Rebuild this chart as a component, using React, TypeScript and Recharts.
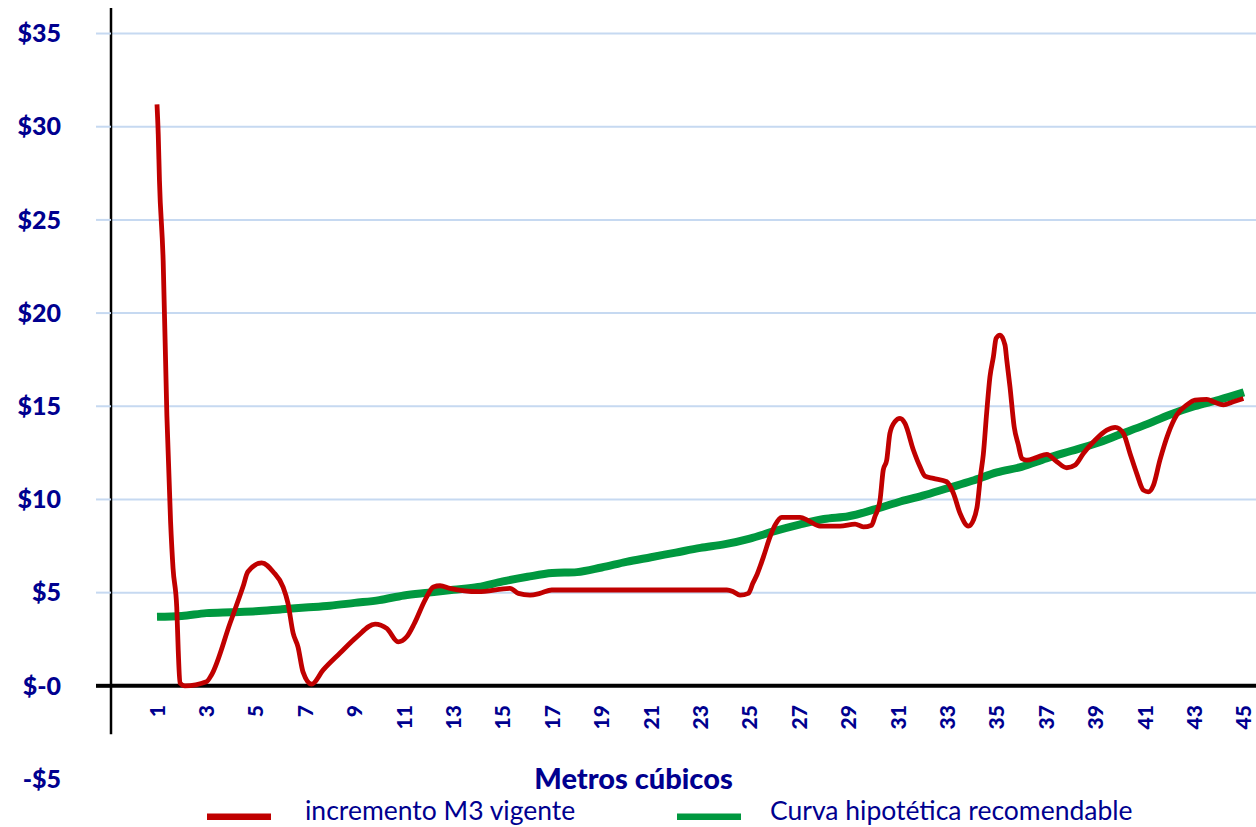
import React from 'react';
import {
  ComposedChart,
  Line,
  XAxis,
  YAxis,
  CartesianGrid,
  ReferenceLine,
  Legend,
  Label,
} from 'recharts';

// ---------- data ----------
const xTicks = [1, 3, 5, 7, 9, 11, 13, 15, 17, 19, 21, 23, 25, 27, 29, 31, 33, 35, 37, 39, 41, 43, 45];
const yTicks = [-5, 0, 5, 10, 15, 20, 25, 30, 35];
const yTickLabels = ['-$5', '$-0', '$5', '$10', '$15', '$20', '$25', '$30', '$35'];
const gridValues = [5, 10, 15, 20, 25, 30, 35];
const seriesNames = ['incremento M3 vigente', 'Curva hipotética recomendable'];
const axisTitle = 'Metros cúbicos';

// red series: traced positions (m3) and values ($)
const incrementoM3 = [
  1.0, 1.05, 1.1, 1.25, 1.4, 1.55, 1.65, 1.8, 1.86, 1.93, 2.13, 3.0, 3.2, 3.96, 4.48, 4.68, 5.24, 5.7,
  6.1, 6.3, 6.51, 6.71, 6.91, 7.26, 7.72, 8.41, 9.09, 9.83, 10.3, 10.76, 11.11, 11.42, 11.85, 12.19,
  12.46, 12.86, 14.0, 15.29, 15.63, 16.1, 16.5, 16.98, 24.07, 24.33, 24.6, 24.94, 25.12, 25.3, 25.55,
  25.82, 26.02, 26.29, 27.03, 27.37, 27.84, 28.65, 29.26, 29.59, 29.93, 30.06, 30.27, 30.4, 30.54,
  30.67, 30.87, 31.08, 31.28, 31.62, 31.89, 32.09, 32.43, 32.97, 33.24, 33.51, 33.85, 34.05, 34.21,
  34.34, 34.45, 34.59, 34.72, 34.86, 34.97, 35.13, 35.33, 35.4, 35.53, 35.7, 35.87, 36.01, 36.21,
  36.62, 37.02, 37.43, 37.83, 38.17, 38.5, 38.98, 39.45, 39.79, 40.12, 40.39, 40.66, 40.93, 41.13,
  41.34, 41.6, 41.94, 42.28, 42.69, 43.02, 43.5, 43.77, 44.17, 44.57, 44.98,
];
const incrementoValor = [
  31.2, 29.6, 27.1, 22.8, 14.5, 8.8, 6.3, 4.2, 1.9, 0.15, 0.0, 0.22, 0.57, 3.37, 5.31, 6.12, 6.6, 6.12,
  5.31, 4.44, 2.83, 2.08, 0.75, 0.09, 0.84, 1.76, 2.63, 3.31, 3.08, 2.36, 2.63, 3.35, 4.6, 5.3,
  5.37, 5.23, 5.05, 5.23, 4.96, 4.87, 4.96, 5.14, 5.14, 5.05, 4.87, 4.96, 5.5, 6.0, 6.92,
  8.0, 8.62, 9.04, 9.04, 8.86, 8.57, 8.57, 8.68, 8.53, 8.62, 9.07, 9.97, 11.58, 12.11,
  13.55, 14.17, 14.35, 14.08, 12.65, 11.75, 11.25, 11.13, 10.95, 10.33, 9.25, 8.57, 8.89, 9.7,
  11.3, 12.4, 14.7, 16.58, 17.66, 18.65, 18.82, 18.28, 17.48, 16.05, 13.9, 12.92, 12.2, 12.11,
  12.26, 12.42, 12.02, 11.7, 11.85, 12.47, 13.19, 13.72, 13.87, 13.55, 12.47, 11.4, 10.5, 10.41,
  10.77, 12.11, 13.55, 14.53, 15.07, 15.33, 15.37, 15.24, 15.07, 15.24, 15.42,
];

// green series: one value per cubic metre
const curvaM3 = [
  1, 2, 3, 4, 5, 6, 7, 8, 9, 10, 11, 12, 13, 14, 15, 16, 17, 18, 19, 20, 21, 22, 23, 24, 25, 26, 27, 28, 29,
  30, 31, 32, 33, 34, 35, 36, 37, 38, 39, 40, 41, 42, 43, 44, 45,
];
const curvaValor = [
  3.7, 3.75, 3.9, 3.95, 4.0, 4.1, 4.2, 4.3, 4.45, 4.6, 4.85, 5.0, 5.15, 5.3, 5.6, 5.85, 6.05, 6.1, 6.35,
  6.65, 6.9, 7.15, 7.4, 7.6, 7.9, 8.3, 8.65, 8.95, 9.1, 9.45, 9.85, 10.2, 10.6, 11.0, 11.45, 11.75, 12.2,
  12.6, 13.0, 13.5, 14.0, 14.55, 15.0, 15.35, 15.75,
];

const redData = incrementoM3.map((m, i) => ({ m3: m, valor: incrementoValor[i] }));
const greenData = curvaM3.map((m, i) => ({ m3: m, valor: curvaValor[i] }));

// ---------- style ----------
const FONT = 'Lato, "Open Sans", sans-serif';
const NAVY = '#00008f';
const RED = '#c00000';
const GREEN = '#00983f';
const GRID = '#c6d9f1';

const X_MIN = -0.862;
const X_MAX = 45.49;
const Y_MIN = -5;
const Y_MAX = 36.37;

const XTick = (props: any) => {
  const { x, y, payload } = props;
  const ay = y - 74;
  return (
    <text
      x={x}
      y={ay}
      transform={`rotate(-90, ${x}, ${ay})`}
      textAnchor="end"
      dy="0.36em"
      fill={NAVY}
      fontFamily={FONT}
      fontWeight={900}
      fontSize={21}
    >
      {payload.value}
    </text>
  );
};

const YTick = (props: any) => {
  const { x, y, payload } = props;
  const v = payload.value;
  const idx = yTicks.indexOf(v);
  return (
    <g>
      {v > -5 && (
        <line
          x1={x + 35}
          x2={x + 50}
          y1={y}
          y2={y}
          stroke={v === 0 ? '#000' : GRID}
          strokeWidth={v === 0 ? 4 : 2}
        />
      )}
      <text
        x={x}
        y={y}
        dy="0.35em"
        textAnchor="end"
        fill={NAVY}
        fontFamily={FONT}
        fontWeight={900}
        fontSize={25}
      >
        {yTickLabels[idx]}
      </text>
    </g>
  );
};

const TitleLabel = (props: any) => {
  const vb = props.viewBox || { x: 0, y: 0, width: 0 };
  return (
    <text
      x={vb.x + vb.width / 2 - 50}
      y={vb.y}
      dy="0.35em"
      textAnchor="middle"
      fill={NAVY}
      fontFamily={FONT}
      fontWeight={900}
      fontSize={29}
    >
      {axisTitle}
    </text>
  );
};

const LegendContent = () => (
  <svg width={1256} height={28} style={{ display: 'block', overflow: 'visible' }}>
    <rect x={207} y={14.5} width={64} height={6.5} fill={RED} />
    <text x={305} y={20.5} fill={NAVY} fontFamily={FONT} fontSize={26.5}>
      {seriesNames[0]}
    </text>
    <rect x={677} y={14.5} width={64} height={6.5} fill={GREEN} />
    <text x={770} y={20.5} fill={NAVY} fontFamily={FONT} fontSize={26.5}>
      {seriesNames[1]}
    </text>
  </svg>
);

export default function App() {
  return (
    <div style={{ position: 'absolute', left: 0, top: 0, width: 1256, height: 827, background: '#fff' }}>
      <ComposedChart width={1256} height={827} margin={{ top: 8, right: 0, bottom: 0, left: 0 }}>
        <CartesianGrid horizontal vertical={false} horizontalValues={gridValues} stroke={GRID} strokeWidth={2} />
        <XAxis
          dataKey="m3"
          type="number"
          domain={[X_MIN, X_MAX]}
          allowDataOverflow
          ticks={xTicks}
          interval={0}
          height={20}
          tickSize={0}
          tickMargin={0}
          tickLine={false}
          axisLine={false}
          tick={<XTick />}
        >
          <Label content={<TitleLabel />} />
        </XAxis>
        <YAxis
          type="number"
          domain={[Y_MIN, Y_MAX]}
          allowDataOverflow
          ticks={yTicks}
          interval={0}
          width={111}
          tickSize={0}
          tickMargin={50}
          tickLine={false}
          axisLine={false}
          tick={<YTick />}
        />
        <ReferenceLine y={0} stroke="#000" strokeWidth={4} />
        <ReferenceLine
          segment={[
            { x: X_MIN, y: -2.6 },
            { x: X_MIN, y: Y_MAX },
          ]}
          stroke="#000"
          strokeWidth={2.5}
          ifOverflow="visible"
        />
        <Line
          data={greenData}
          dataKey="valor"
          name={seriesNames[1]}
          type="monotone"
          stroke={GREEN}
          strokeWidth={8}
          dot={false}
          activeDot={false}
          isAnimationActive={false}
        />
        <Line
          data={redData}
          dataKey="valor"
          name={seriesNames[0]}
          type="monotone"
          stroke={RED}
          strokeWidth={4.8}
          dot={false}
          activeDot={false}
          isAnimationActive={false}
        />
        <Legend verticalAlign="bottom" height={28} content={<LegendContent />} wrapperStyle={{ left: 0, width: 1256 }} />
      </ComposedChart>
    </div>
  );
}
